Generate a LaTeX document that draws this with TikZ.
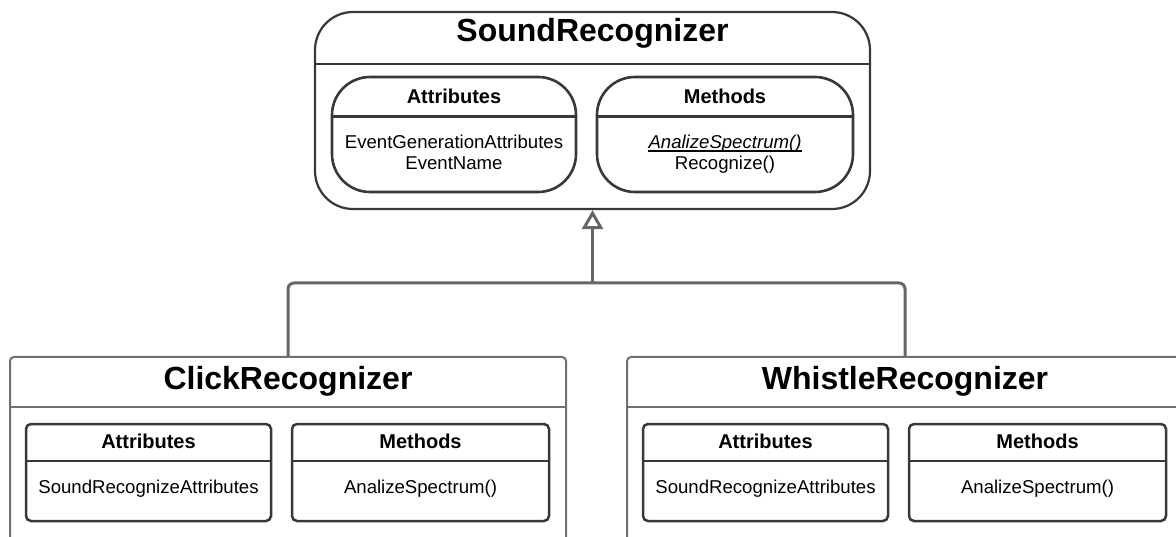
\documentclass[tikz,border=0pt]{standalone}
\usepackage{fontspec}
\setmainfont{Liberation Sans}
\usetikzlibrary{arrows.meta}
\definecolor{edgedark}{HTML}{383838}
\definecolor{edgegray}{HTML}{707070}
\definecolor{linkgray}{HTML}{666666}
\tikzset{
  soundbox/.style={draw=edgedark, line width=2.2pt, rounded corners=38pt, inner sep=0pt},
  roundpart/.style={draw=edgedark, line width=2.6pt, rounded corners=38pt, inner sep=0pt},
  classbox/.style={draw=edgegray, line width=2pt, rounded corners=4pt, inner sep=0pt},
  partbox/.style={draw=edgedark, line width=2.5pt, rounded corners=5pt, inner sep=0pt},
  darksep/.style={draw=edgedark, line width=2.2pt},
  graysep/.style={draw=edgegray, line width=2pt},
  link/.style={draw=linkgray, line width=3pt},
  title/.style={font=\fontsize{32}{37}\selectfont\bfseries, inner sep=0pt},
  head/.style={font=\fontsize{20}{23}\selectfont\bfseries, inner sep=0pt},
  body/.style={font=\fontsize{18.6}{21}\selectfont, inner sep=0pt, align=center},
}
\begin{document}
\begin{tikzpicture}[x=1pt, y=-1pt]
\useasboundingbox (0,0) rectangle (1176,537);
\clip (0,0) rectangle (1176,537);

% ---- base class ----
\node[soundbox, minimum width=555pt, minimum height=197pt] (sound) at (592.5,110.5) {};
\draw[darksep] (sound.west |- 0,64) -- (sound.east |- 0,64);
\node[title] (soundT) at (592.5,33) {SoundRecognizer};

\node[roundpart, minimum width=244pt, minimum height=115pt] (sAttr) at (454,134.5) {};
\draw[darksep] (sAttr.west |- 0,116.5) -- (sAttr.east |- 0,116.5);
\node[head] (sAttrH) at (454,96) {Attributes};
\node[body] (sAttrB) at (454,152.5) {EventGenerationAttributes\\EventName};

\node[roundpart, minimum width=256pt, minimum height=115pt] (sMeth) at (725,134.5) {};
\draw[darksep] (sMeth.west |- 0,116.5) -- (sMeth.east |- 0,116.5);
\node[head] (sMethH) at (725,96) {Methods};
\node[body, anchor=base] (sMethA) at (725,148.5) {\itshape AnalizeSpectrum()};
\node[body, anchor=base] (sMethR) at (725,169.5) {Recognize()};
% underline of the abstract method
\draw[line width=1.2pt] ([yshift=-2.6pt]sMethA.base west) -- ([yshift=-2.6pt]sMethA.base east);

% ---- ClickRecognizer ----
\node[classbox, minimum width=556pt, minimum height=220pt] (click) at (288,467) {};
\draw[graysep] (click.west |- 0,407) -- (click.east |- 0,407);
\node[title] (clickT) at (288,381) {ClickRecognizer};

\node[partbox, minimum width=245pt, minimum height=97pt] (cAttr) at (148.5,472.5) {};
\draw[darksep] (cAttr.west |- 0,461) -- (cAttr.east |- 0,461);
\node[head] (cAttrH) at (148.5,441) {Attributes};
\node[body] (cAttrB) at (148.5,489) {SoundRecognizeAttributes};

\node[partbox, minimum width=257pt, minimum height=97pt] (cMeth) at (420.5,472.5) {};
\draw[darksep] (cMeth.west |- 0,461) -- (cMeth.east |- 0,461);
\node[head] (cMethH) at (420.5,441) {Methods};
\node[body] (cMethB) at (420.5,489) {AnalizeSpectrum()};

% ---- WhistleRecognizer ----
\node[classbox, minimum width=556pt, minimum height=220pt] (whistle) at (905,467) {};
\draw[graysep] (whistle.west |- 0,407) -- (whistle.east |- 0,407);
\node[title] (whistleT) at (905,381) {WhistleRecognizer};

\node[partbox, minimum width=245pt, minimum height=97pt] (wAttr) at (765.5,472.5) {};
\draw[darksep] (wAttr.west |- 0,461) -- (wAttr.east |- 0,461);
\node[head] (wAttrH) at (765.5,441) {Attributes};
\node[body] (wAttrB) at (765.5,489) {SoundRecognizeAttributes};

\node[partbox, minimum width=257pt, minimum height=97pt] (wMeth) at (1037.5,472.5) {};
\draw[darksep] (wMeth.west |- 0,461) -- (wMeth.east |- 0,461);
\node[head] (wMethH) at (1037.5,441) {Methods};
\node[body] (wMethB) at (1037.5,489) {AnalizeSpectrum()};

% ---- generalization ----
\coordinate (junction) at (592.5,283);
\draw[link, -{Triangle[open, length=19pt, width=21pt, fill=white]}] (junction) -- (sound.south);
\draw[link, rounded corners=6pt] (click.north) |- (junction) -| (whistle.north);
\end{tikzpicture}
\end{document}
